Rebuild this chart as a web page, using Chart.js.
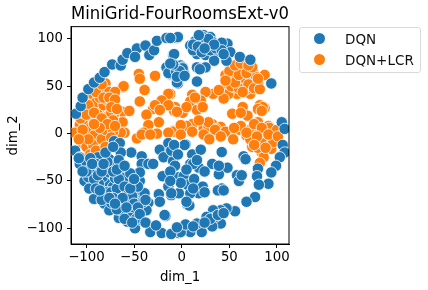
<!DOCTYPE html>
<html>
<head>
<meta charset="utf-8">
<script src="https://cdn.jsdelivr.net/npm/chart.js@4"></script>
<style>
body { margin: 0; background: #fff; font-family: "DejaVu Sans", sans-serif; }
#wrap { position: relative; width: 428px; height: 290px; }
#legend { position: absolute; left: 299px; top: 27px; width: 120px; height: 44px; border: 1px solid #d9d9d9; border-radius: 3px; font-size: 13.5px; color: #111; }
#legend div { position: absolute; left: 45px; line-height: 16px; white-space: nowrap; }
#legend span { position: absolute; left: -31px; top: 2px; width: 11px; height: 11px; border-radius: 50%; }
</style>
</head>
<body>
<div id="wrap">
<canvas id="tsne" width="428" height="290"></canvas>
<div id="legend"></div>
</div>
<script>
const chartTitle = 'MiniGrid-FourRoomsExt-v0';
const seriesNames = ['DQN', 'DQN+LCR'];
const seriesColors = ['#1f77b4', '#ff7f0e'];
const tickValues = [-100, -50, 0, 50, 100];

// [dim_1, dim_2]
const dqnPoints = [
  [-111,21],[-106,29],[-104,38],[-98,47],[-92,54],[-86,59],[-81,65],[-73,73],[-64,72],[-62,78],[-57,85],[-47,90],
  [-49,81],[-38,93],[-34,83],[-29,88],[-26,98],[-16,101],[-5,101],[-9,83],[-8,84],[-12,69],[-5,63],[-11,62],[-1,70],
  [-16,70],[-9,72],[-4,69],[-9,69],[-1,72],[-4,62],[-7,62],[-12.5,63],[-4,53],[-5,54],[1,70],[2,65],[1,69],[-7,70],
  [-12,66],[-14,64],[-6,66],[-2,66],[-9,73],[-5,60],[-12,74],[3,61],
  [-4,102],[-12,101],[9,93],[14.5,98],[19,98],[23,104],[30,102],[39,92],[32,97],[27,93],[16,84],[25,83],[35,84],
  [48,95],[51,86],[47,77],[61,81],[72,78],[34,77],[94,53],[20,69],[16,70],[25,70],[19,68],[16,55],[22,102],[12,88],[42,96],
  [12,94],[17,92],[21,86],[30,88],[36,90],[42,88],[28,100],[34,94],[24,90],[18,104],[44,84],
  [105,12],[108,5],[-112,-18],[-107,-32],[-102,-50],[-97,-58],[-92,-69],[-81,-74],[-76,-81],[-66,-89],[-57,-93],
  [-49,-100],[-33,-104],[-21,-105],[-11,-106],[-3,-105],[-88,-25],[-95,-39],[-76,-27],[-65,-39],[-71,-8],[-65,-10],
  [-83,-39],[-79,-54],[-78,-53],[-83,-61],[-64,-61],[-71,-67],[-55,-50],[-44,-50],[-44,-68],[-35,-73],[-44,-80],[-53,-81],
  [-60,-84],[-67,-77],[-53,-20],[-64,-20],[-42,-24],[-42,-32],[-35,-32],[-30,-32],[-23,-17],[-12,-18],[-14,-10],[-19,-25],
  [-9,-29],[-20,-45],[-14,-56],[-24,-64],[-23,-72],[-11,-65],[-17,-87],[-18,-86],[-3,-46],[-83,-46],[-53,-60],[-44,-41],
  [-62,-75],[-49,-72],[-76,-41],[-37,-81],[-107,-25],[-90,-32],[-72,-33],[-87,-53],[-72,-56],[-60,-47],[-57,-69],[-74,-73],
  [-49,-61],[-39,-63],[-54,-89],[-43,-91],[-64,-81],[-98,-46],[-70,-47],
  [-100,-30],[-96,-26],[-92,-48],[-88,-44],[-84,-40],[-78,-30],[-66,-28],[-78,-62],[-74,-62],[-68,-58],[-66,-48],[-60,-56],
  [-58,-66],[-64,-70],[-52,-66],[-56,-76],[-50,-74],[-46,-56],[-54,-42],[-68,-80],[-60,-90],[-48,-90],[-40,-72],[-72,-68],
  [-84,-70],[-90,-58],[-100,-40],[-108,-26],
  [-104,-40],[-94,-32],[-82,-32],[-72,-40],[-86,-60],[-76,-68],[-62,-68],[-54,-58],[-70,-74],[-46,-78],[-52,-94],[-44,-85],
  [-58,-78],[-38,-70],[-50,-48],[-68,-38],[-80,-20],[-72,-14],[-38,-94],[-27,-97],[-60,-34],
  [106,-12],[108,-20],[103,-25],[99,-34],[94,-41],[80,-37],[79,-45],[91,-53],[81,-54],[77,-67],[68,-72],[56,-82],[47,-79],
  [41,-81],[41,-95],[33,-81],[35,-88],[26,-88],[32,-98],[21,-104],[16,-95],[9,-104],[-1,-104],[4,-96],[-11,-106],
  [30,-90],[38,-86],[44,-84],[24,-94],[12,-98],[-5,-99],
  [4,-11.5],[3,-12],[-11,-18],[11,-22],[20,-17],[42,-19.5],[65,-24],[67,-27],[48,-36],[-7,-34],[9,-32],[18,-36],[2,-45],
  [39,-43],[61,-46],[60,-48],[41,-59],[42,-58],[21,-59],[18,-63],[6,-54],[-3,-63],[9,-63],[6,-75],[8,-76],[-11,-63],[-12,-40],
  [32,-32],[39,-34],[12,-32],[5,-38],[13,-48],[-1,-52],[22,-56],[58,-44],
  [-8,-12],[-4,-22],[16,-28],[24,-40],[-12,-50],[12,-58],[24,-62],[5,-72],[60,-50],[63,-44],[38,-60],[44,-60]
];
const lcrPoints = [
  [87,62],[70,60],[54,58],[46,62],[49,51],[58,67],[63,65],[75,65],[80,53],[72,42],[58,42],[49,42],[78,48],[65,51],[54,69],
  [44,37],[33,42],[25,44],[39,46],[11,41],[9,34],[20,35],[16,25],[1,22],[-7,28],[-12,42],[64,28],[53,21],[69,19],[87,27],
  [82,30],[80,12],[91,8],[61,4],[32,10],[11,10],[23,6],[-9,3],[-1,4],[41,7],[51,2],[72,4],[82,2],[99,2],[60,55],[68,47],
  [55,49],[72,55],[62,60],[67,70],[48,56],[85,28],[76,10],[28,8],[36,5],
  [52,62],[58,60],[66,58],[74,58],[78,60],[52,50],[60,48],[70,52],[76,48],[82,47],[64,44],[56,54],[50,66],[64,72],[60,62],
  [68,64],[74,70],[80,58],[56,72],[62,74],[70,72],[46,56],
  [92,6],[84,6],[98,-6],[90,-8],[84,-20],[78,-8],[74,-14],[100,4],[94,-16],[84,-10],[68,-2],[62,8],
  [5,28],[14,38],[22,28],[28,12],[18,14],[5,8],[35,4],[46,2],[55,6],[62,22],[80,26],[84,24],[-30,26],[-16,32],[-8,24],
  [-80,53],[-93,38],[-74,40],[-86,42],[-79,28],[-98,24],[-90,27],[-85,35],[-102,16],[-111,2],[-100,11],[-93,16],[-86,11],
  [-76,9],[-107,9],[-62,49],[-61,50],[-62,23],[-55,24],[-62,12],[-45,63],[-44,58],[-28,61],[-39,46],[-44,34],[-14,42],[-21,35],
  [-14,30],[-28,30],[-37,20],[-23,25],[-5,23],[-24,12],[-35,9],[-9,2],[-40,1],[-60,1],[-1,9],[-83,23],[-107,21],[-71,21],
  [-112,1],[-105,-10],[-97,-18],[-88,1],[-93,-8],[-83,-10],[-100,1],[-64,1],[-47,-5],[-42,-1],[-26,0],[-14,1],[-1,-1],[-33,-1],
  [-94,28],[-82,18],[-92,5],[-77,32],[-90,-14],[-102,-4],[-80,-2],[-87,-18],[-78,18],[-97,34],[-87,25],[-72,30],
  [-100,30],[-94,42],[-86,48],[-80,46],[-76,44],[-90,33],[-82,30],[-74,22],[-104,14],[-96,6],[-92,-2],[-106,-4],[-100,-14],
  [-93,-12],[-84,-6],[-80,4],[-72,2],[-72,14],[-88,20],[-94,18],[-106,16],[-82,-16],[-96,-22],[-79,36],[-73,34],[-86,38],[-70,44],
  [-104,22],[-98,30],[-90,44],[-84,52],[-82,38],[-76,38],[-70,36],[-74,28],[-68,26],[-100,20],[-92,22],[-84,16],[-78,10],
  [-70,8],[-104,4],[-98,-6],[-90,-18],[-80,-14],[-74,-4],[-86,6],[-92,10],[-108,-6],
  [23,-1],[29,-6],[11,2],[54,-6],[72,-6],[80,-15],[96,-9],[91,-1],[86,-25],[82,-31],[101,-3],[68,1],[41,-3],[79,-3],[88,-15],[76,-12]
];

const toXY = pts => pts.map(p => ({ x: p[0], y: p[1] }));
const tickFont = { family: '"DejaVu Sans"', size: 13.3 };

function fixTicks(axis) {
  axis.ticks = tickValues.map(v => ({ value: v }));
}
function minusLabel(v) {
  return String(v).replace('-', '\u2212');
}

const frame = {
  id: 'frame',
  afterDatasetsDraw(chart) {
    const a = chart.chartArea, c = chart.ctx;
    c.save();
    c.strokeStyle = '#000';
    c.lineWidth = 1;
    c.strokeRect(a.left, a.top, a.right - a.left, a.bottom - a.top);
    c.restore();
  }
};

new Chart(document.getElementById('tsne'), {
  type: 'scatter',
  data: {
    datasets: [
      { label: seriesNames[0], data: toXY(dqnPoints), backgroundColor: seriesColors[0] },
      { label: seriesNames[1], data: toXY(lcrPoints), backgroundColor: seriesColors[1] }
    ]
  },
  options: {
    responsive: false,
    animation: false,
    layout: { padding: { top: 0, right: 139, bottom: 0, left: 0 } },
    elements: { point: { radius: 5.7, borderColor: '#fff', borderWidth: 0.8 } },
    plugins: {
      legend: { display: false },
      tooltip: { enabled: false },
      title: {
        display: true,
        text: chartTitle,
        fullSize: false,
        color: '#000',
        font: { family: '"DejaVu Sans"', size: 17.2, weight: 'normal' },
        padding: { top: 4, bottom: 2 }
      }
    },
    scales: {
      x: {
        min: -116.2, max: 112.6,
        afterBuildTicks: fixTicks,
        afterFit(axis) { axis.height = 46; },
        grid: { drawOnChartArea: false, tickLength: 4, tickColor: '#000' },
        border: { color: '#000' },
        ticks: { color: '#000', font: tickFont, maxRotation: 0, padding: 2, callback: minusLabel },
        title: { display: true, text: 'dim_1', color: '#000', font: tickFont, padding: { top: 1, bottom: 4 } }
      },
      y: {
        min: -116.6, max: 113,
        afterBuildTicks: fixTicks,
        afterFit(axis) { axis.width = 71; },
        grid: { drawOnChartArea: false, tickLength: 4, tickColor: '#000' },
        border: { color: '#000' },
        ticks: { color: '#000', font: tickFont, padding: 4, callback: minusLabel },
        title: { display: true, text: 'dim_2', color: '#000', font: tickFont, padding: { top: 6, bottom: 0 } }
      }
    }
  },
  plugins: [frame]
});

const legendBox = document.getElementById('legend');
seriesNames.forEach((name, i) => {
  const row = document.createElement('div');
  row.style.top = (3 + i * 21) + 'px';
  row.textContent = name;
  const dot = document.createElement('span');
  dot.style.background = seriesColors[i];
  row.appendChild(dot);
  legendBox.appendChild(row);
});
</script>
</body>
</html>
